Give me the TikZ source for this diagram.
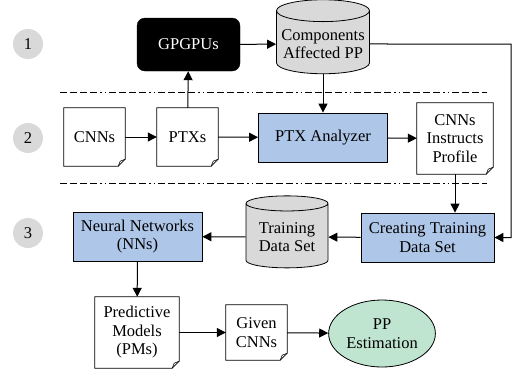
\documentclass[tikz,border=0pt]{standalone}
\usepackage{fontspec}
\setmainfont{Liberation Serif}
\newfontfamily\labelfont{Liberation Serif}
\usepackage{tikz}
\usetikzlibrary{arrows.meta,shapes.geometric,calc}
\definecolor{stageGray}{HTML}{D9D9D9}
\definecolor{procBlue}{HTML}{AEC6E8}
\definecolor{estGreen}{HTML}{BFE5D1}

\begin{document}
\begin{tikzpicture}[x=1pt,y=1pt,
  every node/.style={font=\labelfont\fontsize{16.5}{18.5}\selectfont,align=center,inner sep=2pt},
  stage/.style={circle,fill=stageGray,minimum size=30pt},
  proc/.style={draw,line width=0.8pt,fill=procBlue,minimum width=129pt,minimum height=49pt},
  store/.style={draw,line width=0.8pt,cylinder,shape border rotate=90,aspect=0.25,fill=stageGray},
  doc/.style={minimum width=61pt,minimum height=58pt},
  sep/.style={line width=0.8pt,dash pattern=on 7pt off 3pt on 7pt off 3pt on 7pt off 3pt on 7pt off 3pt on 1.5pt off 3pt on 1.5pt off 3pt},
  link/.style={-{Triangle[length=9pt,width=9pt]},line width=1pt}]

\useasboundingbox (0,0) rectangle (513,-370);

\node[stage] (s1) at (28,-44) {1};
\node[stage] (s2) at (28,-138) {2};
\node[stage] (s3) at (28,-233) {3};

\node[draw,fill=black,text=white,rounded corners=8pt,minimum width=103pt,minimum height=53pt] (gpgpu) at (188.5,-44.5) {GPGPUs};
\node[store,minimum width=93pt,minimum height=74pt] (comp) at (323,-44) {Components\\Affected PP};

\draw[sep] (60,-92) -- (487,-92);

\node[doc] (cnn) at (94.5,-137) {CNNs};
\node[doc] (ptx) at (187.5,-137) {PTXs};
\node[proc] (ptxan) at (323,-137.5) {PTX Analyzer};
\node[doc,minimum width=76pt,minimum height=71pt] (prof) at (455,-138.5) {CNNs\\Instructs\\Profile};

\draw[sep] (60,-183) -- (487,-183);

\node[proc] (nns) at (137.5,-236.5) {Neural Networks\\(NNs)};
\node[store,minimum width=82pt,minimum height=72pt] (tds) at (287,-237) {Training\\Data Set};
\node[proc,minimum width=133pt] (ctds) at (427.5,-237.5) {Creating Training\\Data Set};

\node[doc,minimum width=84pt,minimum height=71pt] (pm) at (137,-332.5) {Predictive\\Models\\(PMs)};
\node[doc,minimum height=55pt] (given) at (256.5,-332.5) {Given\\CNNs};
\node[draw,ellipse,line width=0.8pt,fill=estGreen,minimum width=102pt,minimum height=67pt] (ppe) at (382,-333.5) {PP\\Estimation};

% document outlines with folded corner
\foreach \d in {cnn,ptx,prof,pm,given} {
  \draw[line width=0.8pt] (\d.north west) -- (\d.north east) -- ($(\d.south east)+(0,7)$)
    -- ($(\d.south east)+(-7,0)$) -- (\d.south west) -- cycle;
  \draw[line width=0.6pt] ($(\d.south east)+(-7,0)$) -- ($(\d.south east)+(-5,5)$) -- ($(\d.south east)+(0,7)$);
}

\draw[link] (gpgpu) -- (comp);
\draw[link] (comp) -- (ptxan);
\draw[link] (ptx) -- (gpgpu);
\draw[link] (cnn) -- (ptx);
\draw[link] (ptx) -- (ptxan);
\draw[link] (ptxan) -- (prof);
\draw[link] (prof.south) -- (prof.south |- ctds.north);
\draw[link] (comp.east) -- (511,-44) |- (ctds.east);
\draw[link] (ctds) -- (tds);
\draw[link] (tds) -- (nns);
\draw[link] (nns) -- (pm);
\draw[link] (pm) -- (given);
\draw[link] (given) -- (ppe);
\end{tikzpicture}
\end{document}
